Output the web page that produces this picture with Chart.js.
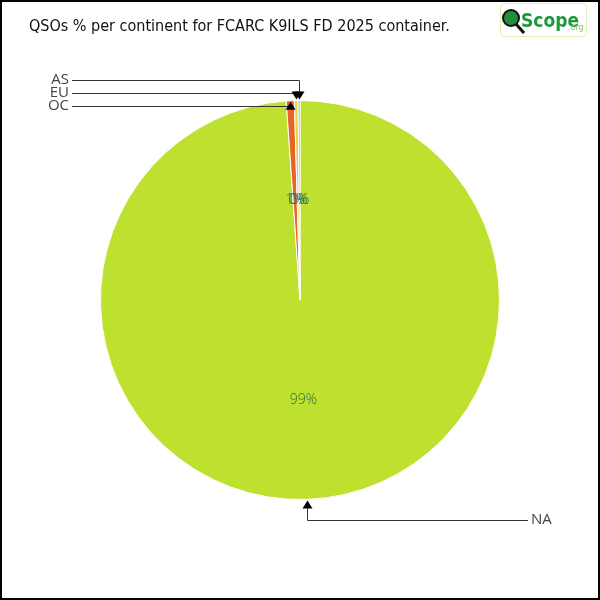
<!DOCTYPE html>
<html><head><meta charset="utf-8">
<script src="https://cdn.jsdelivr.net/npm/chart.js@4/dist/chart.umd.min.js"></script>
<style>html,body{margin:0;padding:0;background:#fff}canvas{display:block}</style>
</head><body>
<canvas id="c" width="600" height="600"></canvas>
<script>
const titleText = 'QSOs % per continent for FCARC K9ILS FD 2025 container.';
const continents = ['NA', 'OC', 'EU', 'AS'];
const sharePercent = [98.9, 0.65, 0.3, 0.15];
const sliceColors = ['#bde12e', '#e8642a', '#f2d23c', '#6fa3d6'];
// callout label vertical positions (px) for each continent label
const calloutY = [520, 106, 93, 80];

const decor = {
  id: 'decor',
  afterDraw(chart) {
    const ctx = chart.ctx;
    const meta = chart.getDatasetMeta(0);
    const total = sharePercent.reduce((a, b) => a + b, 0);
    ctx.save();
    // percentage labels
    ctx.font = '300 14px "Open Sans", sans-serif';
    ctx.fillStyle = '#2f6a5e';
    ctx.textAlign = 'center';
    ctx.textBaseline = 'middle';
    meta.data.forEach((arc, i) => {
      const p = arc.getProps(['x', 'y', 'startAngle', 'endAngle', 'outerRadius'], true);
      const mid = (p.startAngle + p.endAngle) / 2;
      const r = p.outerRadius * 0.5;
      const pct = Math.round(sharePercent[i] / total * 100);
      ctx.fillText(pct + '%', p.x + Math.cos(mid) * r, p.y + Math.sin(mid) * r);
    });
    // callouts
    ctx.strokeStyle = '#333';
    ctx.fillStyle = '#000';
    ctx.lineWidth = 1;
    meta.data.forEach((arc, i) => {
      const p = arc.getProps(['x', 'y', 'startAngle', 'endAngle', 'outerRadius'], true);
      const mid = (p.startAngle + p.endAngle) / 2;
      const tx = Math.round(p.x + Math.cos(mid) * p.outerRadius) + 0.5;
      const ty = p.y + Math.sin(mid) * p.outerRadius;
      const ly = calloutY[i] + 0.5;
      const leftSide = tx < p.x;
      const lx = leftSide ? 72 : 528;
      const down = ly < ty; // arrow points down toward the pie
      const tipY = down ? ty - 1 : ty + 1;
      const baseY = down ? tipY - 8 : tipY + 8;
      ctx.beginPath();
      ctx.moveTo(lx, ly);
      ctx.lineTo(tx, ly);
      if ((down && ly < baseY) || (!down && ly > baseY)) ctx.lineTo(tx, baseY);
      ctx.stroke();
      ctx.beginPath();
      ctx.moveTo(tx, tipY);
      ctx.lineTo(tx - 5, baseY);
      ctx.lineTo(tx + 5, baseY);
      ctx.closePath();
      ctx.fill();
      ctx.save();
      ctx.fillStyle = '#444';
      ctx.font = '15px "Open Sans", sans-serif';
      ctx.textBaseline = 'middle';
      ctx.textAlign = leftSide ? 'right' : 'left';
      ctx.fillText(continents[i], leftSide ? 69 : 531, calloutY[i]);
      ctx.restore();
    });
    // title
    ctx.fillStyle = '#111';
    ctx.font = '16px "DejaVu Sans Condensed", "DejaVu Sans", sans-serif';
    ctx.textAlign = 'left';
    ctx.textBaseline = 'middle';
    ctx.fillText(titleText, 29, 27);
    // logo
    ctx.strokeStyle = '#e3edb8';
    ctx.lineWidth = 1;
    ctx.beginPath();
    ctx.roundRect(500.5, 3.5, 86, 33, 4);
    ctx.stroke();
    ctx.strokeStyle = '#111';
    ctx.lineWidth = 3;
    ctx.beginPath();
    ctx.moveTo(516, 24); ctx.lineTo(524, 33);
    ctx.stroke();
    ctx.fillStyle = '#1f8f3a';
    ctx.lineWidth = 2;
    ctx.beginPath();
    ctx.arc(511, 18, 8, 0, Math.PI * 2);
    ctx.fill(); ctx.stroke();
    ctx.fillStyle = '#1a9a3a';
    ctx.font = 'bold 19px "DejaVu Sans Condensed", sans-serif';
    ctx.textBaseline = 'alphabetic';
    ctx.fillText('Scope', 521, 27);
    ctx.font = '8px "DejaVu Sans", sans-serif';
    ctx.fillStyle = '#8cc060';
    ctx.fillText('.org', 568, 30);
    // frame
    ctx.strokeStyle = '#000';
    ctx.lineWidth = 2;
    ctx.strokeRect(1, 1, 598, 598);
    ctx.restore();
  }
};

new Chart(document.getElementById('c'), {
  type: 'pie',
  data: {
    labels: continents,
    datasets: [{
      data: sharePercent,
      backgroundColor: sliceColors,
      borderColor: '#ffffff',
      borderWidth: 1
    }]
  },
  options: {
    responsive: false,
    animation: false,
    layout: { padding: 100 },
    plugins: { legend: { display: false }, tooltip: { enabled: false }, title: { display: false } }
  },
  plugins: [decor]
});
</script>
</body></html>
